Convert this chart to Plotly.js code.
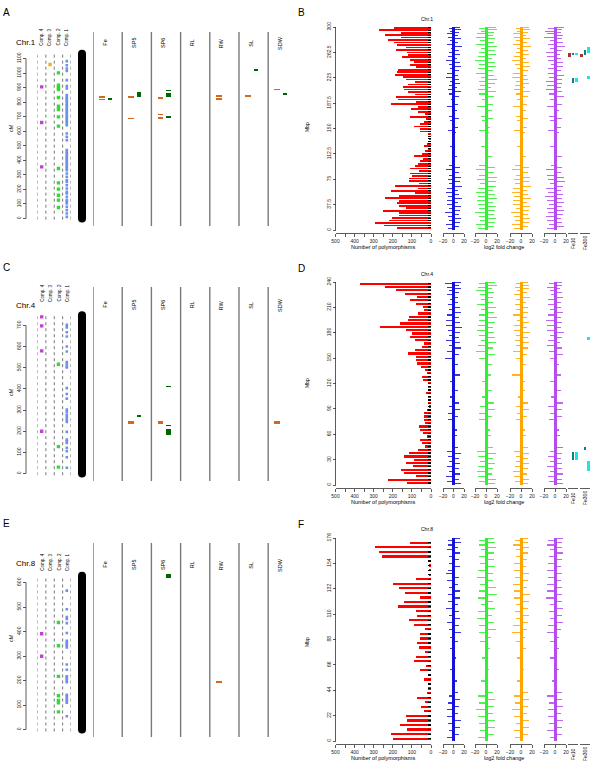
<!DOCTYPE html>
<html><head><meta charset="utf-8">
<script src="https://cdn.plot.ly/plotly-3.0.1.min.js"></script>
<style>html,body{margin:0;padding:0;background:#fff}#chart{width:600px;height:775px}</style>
</head><body><div id="chart"></div>
<script>
// ===================== DATA =====================
const traitNames = ['Fe','SP5','SP6','RL','RW','SL','SDW'];
const compNames = ['Comp. 4','Comp. 3','Comp. 2','Comp. 1'];
const chrLabels = ['Chr.1','Chr.4','Chr.8'];
const leftLetters = ['A','C','E'];
const rightLetters = ['B','D','F'];

// genetic map (cM)
const chrLenCM = [1132, 748, 628];
const cmTicksChr1 = [0,100,200,300,400,500,600,700,800,900,1000,1100];
const cmTicksChr4 = [0,100,200,300,400,500,600,700];
const cmTicksChr8 = [0,100,200,300,400,500,600];

const chr1Comp4 = [905,660,355];
const chr1Comp3 = [1059];
const chr1Comp2 = [1001,917,900,887,832,772,749,699,635,344,245,202,160,126,76];
const chr1Comp1 = [1082,1054,1031,1015,951,910,894,848,836,825,814,802,791,779,768,756,745,733,722,710,699,687,676,665,653,642,584,561,538,470,458,447,435,424,412,401,390,378,367,355,344,332,309,286,263,252,229,206,183,172,149,126,115,103,80,57,34,11];
const chr4Comp4 = [741,698,580,200];
const chr4Comp3 = [];
const chr4Comp2 = [517,127,30];
const chr4Comp1 = [703,691,668,648,601,577,527,517,506,501,404,376,354,302,291,278,266,255,244,197,160,152,145,121,105,77,27];
const chr8Comp4 = [391,299];
const chr8Comp3 = [];
const chr8Comp2 = [437,342,217,138,119,109,72];
const chr8Comp1 = [567,491,459,451,434,394,362,355,349,342,335,265,244,217,213,206,199,193,142,136,129,122,115,109,54];

// QTL intervals (cM)
const chr1OrangeTrait = ['Fe','Fe','SP5','SP5','SP6','SP6','SP6','RW','RW','SL','SDW'];
const chr1OrangeStart = [830,813,828,681,821,709,683,836,818,837,882];
const chr1OrangeEnd   = [842,825,840,693,833,721,695,848,830,849,892];
const chr1GreenTrait = ['Fe','SP5','SP6','SP6','SP6','SL','SDW'];
const chr1GreenStart = [818,832,832,875,693,1012,846];
const chr1GreenEnd   = [830,868,860,885,706,1030,864];
const chr4OrangeTrait = ['SP5','SP6','SDW'];
const chr4OrangeStart = [234,234,234];
const chr4OrangeEnd   = [246,246,246];
const chr4GreenTrait = ['SP5','SP6','SP6','SP6'];
const chr4GreenStart = [268,408,224,182];
const chr4GreenEnd   = [275,416,231,212];
const chr8OrangeTrait = ['RW'];
const chr8OrangeStart = [189];
const chr8OrangeEnd   = [197];
const chr8GreenTrait = ['SP6'];
const chr8GreenStart = [618];
const chr8GreenEnd   = [636];

// physical map (Mbp)
const mbpMax = [300, 240, 176];
const mbpTicksChr1 = [0,37.5,75,112.5,150,187.5,225,262.5,300];
const mbpTicksChr4 = [0,30,60,90,120,150,180,210,240];
const mbpTicksChr8 = [0,22,44,66,88,110,132,154,176];
const polyTicks = [500,450,400,350,300,250,200,150,100,50,0];
const polyTickText = ['500','','400','','300','','200','','100','','0'];
const log2Ticks = [-20,0,20];

// number of polymorphisms per bin (chr1, chr4 listed from top bin downwards; chr8 from bottom bin upwards)
const chr1Poly = [192,273,157,239,157,226,192,178,129,183,125,122,152,111,87,108,77,172,178,190,146,129,82,122,146,143,122,82,185,172,77,209,70,103,70,30,108,24,35,56,87,59,59,17,12,12,17,21,35,17,30,47,87,42,59,70,82,111,64,111,99,117,117,64,186,70,207,82,169,239,169,178,169,129,251,169,169,204,221,291,247,178];
const chr4Poly = [373,242,181,134,73,111,77,42,38,70,117,122,160,268,129,99,108,82,38,47,82,122,77,77,73,52,33,21,47,42,16,16,16,24,14,17,16,12,21,35,35,38,30,64,56,42,21,59,47,33,70,117,139,91,129,94,157,139,77,226,125];
const chr8Poly = [200,207,125,164,125,129,35,51,30,73,21,17,12,38,16,56,24,91,77,30,63,73,59,56,30,87,113,73,77,172,139,59,134,165,200,77,8,10,10,8,256,273,291,111];
const binFirst = [299, 238, 2];       // Mbp of first listed bin
const binStep  = [-3.654, -3.927, 3.95];

// log2 fold change (gene position in Mbp, value per condition)
const chr1GenePos = [300,298,296,294,292,290,288,285,283,280,277,274,271,268,265,262,259,256,253,250,247,244,241,238,235,232,229,226,223,220,217,214,211,208,205,201,197,193,186,183,176,168,165,162,152,147,144,123,108,96,93,89,85,81,77,74,71,68,65,62,59,56,53,50,47,44,41,38,35,32,29,26,23,20,17,14,11,8,5,2];
const chr1Blue   = [12,-9,15,-6,10,-13,8,-11,14,-7,9,-12,16,-5,11,-8,13,-10,7,-14,12,-9,15,-6,10,-12,8,-15,11,-7,13,-9,6,-11,14,-8,10,-5,9,-12,7,-8,11,-6,9,-10,5,-6,7,-9,12,-14,10,-8,15,-11,13,-9,16,-12,8,-14,11,-10,17,-13,9,-12,15,-8,12,-16,10,-11,14,-9,13,-15,11,-10];
const chr1Green  = [18,-13,20,-10,15,-17,12,-19,16,-11,14,-18,20,-9,17,-12,19,-15,11,-20,16,-12,18,-14,13,-19,15,-10,20,-13,17,-11,9,-15,18,-12,14,-8,12,-16,10,-9,13,-7,8,-12,6,-9,11,-13,17,-19,15,-12,20,-16,18,-11,19,-15,12,-18,16,-14,20,-17,13,-15,18,-12,16,-20,14,-13,19,-11,17,-18,15,-14];
const chr1Orange = [14,-10,17,-8,12,-15,9,-13,16,-9,11,-14,18,-7,13,-10,15,-12,9,-16,14,-11,17,-8,12,-14,10,-17,13,-9,15,-11,8,-13,16,-10,12,-7,11,-14,9,-10,13,-8,11,-12,7,-8,9,-11,14,-16,12,-10,17,-13,15,-11,18,-14,10,-16,13,-12,19,-15,11,-14,17,-10,14,-18,12,-13,16,-11,15,-17,13,-12];
const chr1Purple = [16,-12,13,-18,11,-14,15,-20,12,-9,14,-13,18,-10,13,-16,9,-15,11,-12,15,-8,14,-13,10,-12,17,-11,13,-16,12,-14,10,-17,13,-11,16,-9,12,-15,8,-11,12,-9,10,-13,7,-10,12,-8,13,-17,11,-14,16,-12,18,-10,14,-16,11,-13,15,-18,12,-14,17,-11,13,-15,16,-12,14,-17,10,-15,13,-11,16,-14];
const chr4GenePos = [240,238,236,234,232,230,228,225,222,219,216,213,210,207,204,201,198,195,192,189,186,183,180,177,174,171,168,165,162,158,154,150,142,130,122,112,104,97,93,89,85,81,77,65,58,44,40,37,34,31,28,25,22,19,16,13,10,7,4,2];
const chr4Blue   = [14,-16,10,-12,15,-8,11,-13,9,-7,8,-10,12,-9,14,-13,10,-15,12,-14,16,-11,13,-9,10,-15,12,-8,14,-13,11,-16,8,12,-7,9,-6,10,-9,13,-11,8,-10,6,7,9,-12,14,-10,11,-8,13,-12,10,-9,12,-14,11,-13,15];
const chr4Green  = [16,-12,20,-15,10,-18,14,-11,12,-9,13,-16,18,-10,15,-13,20,-12,17,-14,12,-16,15,-12,17,-10,19,-14,13,-18,16,-12,11,9,-8,10,-7,14,-11,16,-12,10,-13,8,9,12,-16,18,-14,12,-11,16,-15,13,-17,11,-14,18,-12,16];
const chr4Orange = [12,-10,15,-11,14,-8,10,-12,16,-9,9,-11,13,-10,12,-15,11,-8,14,-12,10,-13,16,-9,12,-11,15,-10,13,-14,11,-9,9,-16,8,7,-6,12,-9,14,-8,11,-10,7,9,13,-12,15,-9,12,-10,14,-11,13,-15,10,-12,14,-11,12];
const chr4Purple = [13,-11,12,-14,9,-10,12,-8,15,-12,10,-13,11,-9,14,-12,10,-16,13,-15,11,-14,16,-10,12,-13,9,-15,12,-11,14,-10,8,11,-9,10,-7,15,-12,13,-9,12,-11,8,9,14,-10,12,-13,11,-9,13,-14,12,-10,15,-12,13,-11,14];
const chr8GenePos = [176,174,172,170,168,166,163,160,157,154,151,148,145,142,139,136,133,130,127,124,121,118,115,112,109,106,103,100,97,94,90,86,80,72,62,52,42,39,36,33,30,27,24,21,18,15,12,9,6,3];
const chr8Blue   = [12,-10,14,-11,9,-13,12,-8,10,-9,13,-11,-15,10,-12,9,-8,13,-11,12,-10,9,-14,11,-8,13,-12,10,-9,14,-7,8,-6,5,-7,6,9,-8,12,-10,11,-13,9,-12,14,-10,12,-9,11,-13];
const chr8Green  = [15,-12,16,-13,18,-10,14,-12,15,-11,17,-14,12,-16,13,-11,18,-12,20,-15,12,-10,16,-14,11,-17,15,-13,18,-12,9,-11,7,-8,6,-9,13,-15,16,-12,14,-18,12,-15,17,-13,16,-11,15,-14];
const chr8Orange = [13,-11,12,-14,15,-9,12,-10,11,-13,9,-12,14,-11,12,-15,10,-12,16,-13,14,-9,12,-11,15,-10,13,-14,11,-16,8,-10,9,-7,6,-8,12,-13,15,-11,13,-16,11,-12,14,-10,15,-13,12,-11];
const chr8Purple = [14,-12,13,-15,12,-10,14,-11,12,-13,10,-14,13,-12,11,-14,12,-15,13,-16,12,-9,14,-11,13,-10,15,-12,11,-14,8,-10,7,-9,8,-6,12,-14,13,-11,15,-12,10,-13,14,-11,12,-15,13,-10];

// Fe10 / Fe300 intervals (Mbp)
const feConditions = ['Fe10','Fe300'];
const chr1FeCond  = ['Fe10','Fe10','Fe10','Fe10','Fe10','Fe300','Fe300','Fe300','Fe300'];
const chr1FeLane  = [0,1,2,1,2,0,1,2,2];
const chr1FeStart = [255,259,258,217,218,256,258,261,223];
const chr1FeEnd   = [262,262,262,224,225,260,266,270,227];
const chr4FeCond  = ['Fe10','Fe10','Fe300','Fe300','Fe300'];
const chr4FeLane  = [1,2,1,2,2];
const chr4FeStart = [30,30,41,16,172];
const chr4FeEnd   = [39,39,45,28,175];
const chr8FeCond = [], chr8FeLane = [], chr8FeStart = [], chr8FeEnd = [];

// ===================== BUILD =====================
const rows = [
 {comps:[chr1Comp4,chr1Comp3,chr1Comp2,chr1Comp1], cmTicks:cmTicksChr1, cmScale:160/1100,
  orT:chr1OrangeTrait, orS:chr1OrangeStart, orE:chr1OrangeEnd, grT:chr1GreenTrait, grS:chr1GreenStart, grE:chr1GreenEnd,
  mbpTicks:mbpTicksChr1, poly:chr1Poly, pos:chr1GenePos, l2:[chr1Blue,chr1Green,chr1Orange,chr1Purple],
  feC:chr1FeCond, feL:chr1FeLane, feS:chr1FeStart, feE:chr1FeEnd, polyW:2.6, geneW:1.5},
 {comps:[chr4Comp4,chr4Comp3,chr4Comp2,chr4Comp1], cmTicks:cmTicksChr4, cmScale:148/700,
  orT:chr4OrangeTrait, orS:chr4OrangeStart, orE:chr4OrangeEnd, grT:chr4GreenTrait, grS:chr4GreenStart, grE:chr4GreenEnd,
  mbpTicks:mbpTicksChr4, poly:chr4Poly, pos:chr4GenePos, l2:[chr4Blue,chr4Green,chr4Orange,chr4Purple],
  feC:chr4FeCond, feL:chr4FeLane, feS:chr4FeStart, feE:chr4FeEnd, polyW:2.6, geneW:1.3},
 {comps:[chr8Comp4,chr8Comp3,chr8Comp2,chr8Comp1], cmTicks:cmTicksChr8, cmScale:147/600,
  orT:chr8OrangeTrait, orS:chr8OrangeStart, orE:chr8OrangeEnd, grT:chr8GreenTrait, grS:chr8GreenStart, grE:chr8GreenEnd,
  mbpTicks:mbpTicksChr8, poly:chr8Poly, pos:chr8GenePos, l2:[chr8Blue,chr8Green,chr8Orange,chr8Purple],
  feC:chr8FeCond, feL:chr8FeLane, feS:chr8FeStart, feE:chr8FeEnd, polyW:1.9, geneW:1.0}
];

const FONT = 'Liberation Sans, Arial, Helvetica, sans-serif';
const W = 600, H = 775;
const PX = x => x / W, PY = y => 1 - y / H;
const rowOff = [0, 255, 511];
const compColors = ['#C040D8', '#F2B01E', '#2EDD2E', '#6C90EE'];
const log2Colors = ['#1414D8', '#33EE33', '#FFA500', '#B64CF0'];
const log2Dom = [[443,464],[475,497],[510,532],[544,566]];
const feColors = ['#A8322A', '#00868B', '#1EE5E5'];
const tickFont = {family: FONT, size: 5, color: '#222'};
const BIN_MARK = 14;   // length (in polymorphism units) of the small black bin marks at the axis origin

const layout = {width:W, height:H, margin:{l:0,r:0,t:0,b:0,pad:0}, paper_bgcolor:'#fff',
  plot_bgcolor:'rgba(0,0,0,0)', showlegend:false, barmode:'overlay', bargap:0,
  font:{family:FONT, size:6, color:'#000'}, shapes:[], annotations:[]};
const traces = [];
let nx = 0, ny = 0;
const base = {showgrid:false, zeroline:false, fixedrange:true};
function addX(p){ nx++; const s = nx>1 ? String(nx) : ''; layout['xaxis'+s] = Object.assign({}, base, p); return 'x'+s; }
function addY(p){ ny++; const s = ny>1 ? String(ny) : ''; layout['yaxis'+s] = Object.assign({}, base, p); return 'y'+s; }
function note(text, x, y, size, angle, extra){
  layout.annotations.push(Object.assign({text, x:PX(x), y:PY(y), xref:'paper', yref:'paper', showarrow:false,
    font:{family:FONT, size, color:'#000'}, textangle:angle||0, xanchor:'center', yanchor:'middle'}, extra||{}));
}
const chrLabelY = [42, 305, 563], compLabelY = [37, 293, 562], traitLabelY = [43, 305, 565];
const cmLabelY = [128, 392, 638], mbpLabelY = [127, 383, 642], titleY = [19, 274, 529];
const letterY = [12, 267, 523];

rows.forEach((r, i) => {
  const oy = rowOff[i];
  // ---------- LEFT ----------
  const zeroPx = oy + 218.5, s = r.cmScale, topPx = oy + 30, botPx = oy + 226;
  const cmY = addY({domain:[PY(botPx), PY(topPx)], range:[-(botPx-zeroPx)/s, (zeroPx-topPx)/s],
    anchor:'free', position:PX(26), side:'left', showline:false, ticks:'outside', ticklen:3, tickwidth:0.8,
    tickcolor:'#333', tickmode:'array', tickvals:r.cmTicks, ticktext:r.cmTicks.map(String), tickangle:-90, tickfont:tickFont});
  const compX = addX({domain:[PX(37.5), PX(71)], range:[0,4], visible:false, anchor:cmY});
  const traitX = addX({domain:[PX(93), PX(297.4)], range:[0,7], visible:false, anchor:cmY});
  const len = chrLenCM[i];
  for (let k = 0; k <= 4; k++) layout.shapes.push({type:'line', xref:compX, yref:cmY, x0:k, x1:k, y0:-8, y1:len,
    line:{color:'#666', width:0.9, dash:'dot'}, layer:'below'});
  r.comps.forEach((arr, k) => {
    traces.push({type:'scatter', mode:'markers', x:arr.map(() => k + 0.5), y:arr, xaxis:compX, yaxis:cmY,
      marker:{symbol:'square', size:k===3?2.6:3.4, color:compColors[k], line:{width:0}}, hoverinfo:'skip'});
  });
  for (let k = 0; k < 7; k++) layout.shapes.push({type:'line', xref:traitX, yref:'paper', x0:k, x1:k,
    y0:PY(oy+226), y1:PY(oy+32), line:{color:'#7a7a7a', width:1.4}});
  const topBody = zeroPx - len * s;
  layout.shapes.push({type:'rect', xref:'paper', yref:cmY, x0:PX(78), x1:PX(86), y0:0, y1:len, fillcolor:'#000', line:{width:0}});
  [zeroPx, topBody].forEach(c => layout.shapes.push({type:'circle', xref:'paper', yref:'paper', x0:PX(78), x1:PX(86),
    y0:PY(c+4), y1:PY(c-4), fillcolor:'#000', line:{width:0}}));
  layout.shapes.push({type:'line', xref:'paper', yref:cmY, x0:PX(26), x1:PX(26), y0:0, y1:r.cmTicks[r.cmTicks.length-1], line:{color:'#333', width:0.8}});
  traces.push({type:'bar', x:r.orT.map(t => traitNames.indexOf(t) + 0.31), base:r.orS, y:r.orS.map((v,j) => r.orE[j]-v),
    width:0.19, marker:{color:'#D2691E', line:{width:0}}, xaxis:traitX, yaxis:cmY, hoverinfo:'skip'});
  traces.push({type:'bar', x:r.grT.map(t => traitNames.indexOf(t) + 0.58), base:r.grS, y:r.grS.map((v,j) => r.grE[j]-v),
    width:0.16, marker:{color:'#006400', line:{width:0}}, xaxis:traitX, yaxis:cmY, hoverinfo:'skip'});
  note(leftLetters[i], 6, letterY[i], 10);
  note(chrLabels[i], 26, chrLabelY[i], 8);
  compNames.forEach((c, k) => note(c, 41.7 + k*8.4, compLabelY[i], 4.5, -90));
  traitNames.forEach((t, k) => layout.annotations.push({text:t, x:k+0.4, xref:traitX, y:PY(traitLabelY[i]), yref:'paper',
    showarrow:false, textangle:-90, font:{family:FONT, size:5.5, color:'#000'}, xanchor:'center', yanchor:'middle'}));
  note('cM', 11, cmLabelY[i], 5.5, -90);

  // ---------- RIGHT ----------
  const mx = mbpMax[i];
  const mbpY = addY({domain:[PY(oy+230), PY(oy+27)], range:[0, mx], anchor:'free', position:PX(335.5), side:'left',
    showline:true, linecolor:'#333', linewidth:0.8, ticks:'outside', ticklen:3, tickwidth:0.8, tickcolor:'#333',
    tickmode:'array', tickvals:r.mbpTicks, ticktext:r.mbpTicks.map(String), tickangle:-90, tickfont:tickFont});
  const polyX = addX({domain:[PX(335.5), PX(431)], range:[500, 0], anchor:'free', position:PY(oy+233),
    showline:true, linecolor:'#333', linewidth:0.8, ticks:'outside', ticklen:3, tickwidth:0.8, tickcolor:'#333',
    tickmode:'array', tickvals:polyTicks, ticktext:polyTickText, tickfont:tickFont});
  traces.push({type:'bar', orientation:'h', x:r.poly, y0:binFirst[i], dy:binStep[i], width:r.polyW,
    marker:{color:'#FF0000', line:{width:0}}, xaxis:polyX, yaxis:mbpY, hoverinfo:'skip'});
  traces.push({type:'bar', orientation:'h', x:r.poly.map(() => BIN_MARK), y0:binFirst[i], dy:binStep[i], width:r.polyW*0.55,
    marker:{color:'#000', line:{width:0}}, xaxis:polyX, yaxis:mbpY, hoverinfo:'skip'});
  r.l2.forEach((vals, k) => {
    const ax = addX({domain:[PX(log2Dom[k][0]), PX(log2Dom[k][1])], range:[-20, 20], anchor:'free', position:PY(oy+233),
      showline:true, linecolor:'#333', linewidth:0.8, ticks:'outside', ticklen:3, tickwidth:0.8, tickcolor:'#333',
      tickmode:'array', tickvals:log2Ticks, tickfont:tickFont, zeroline:true, zerolinecolor:log2Colors[k], zerolinewidth:3});
    traces.push({type:'bar', orientation:'h', x:vals, y:r.pos, width:r.geneW, opacity:0.85,
      marker:{color:log2Colors[k], line:{width:0}}, xaxis:ax, yaxis:mbpY, hoverinfo:'skip'});
  });
  feConditions.forEach((cond, ci) => {
    const lo = ci ? 580 : 568;
    const ax = addX({domain:[PX(lo), PX(lo+10)], range:[0,3], anchor:'free', position:PY(oy+233),
      showline:true, linecolor:'#333', linewidth:0.8, ticks:'', showticklabels:false});
    const idx = r.feC.map((c, j) => c === cond ? j : -1).filter(j => j >= 0);
    traces.push({type:'bar', x:idx.map(j => r.feL[j] + 0.5), base:idx.map(j => r.feS[j]), y:idx.map(j => r.feE[j] - r.feS[j]),
      width:0.75, marker:{color:idx.map(j => feColors[r.feL[j]]), line:{width:0}}, xaxis:ax, yaxis:mbpY, hoverinfo:'skip'});
    note(cond, lo + 5, oy + 243, 5, -90);
  });
  note(rightLetters[i], 301, letterY[i] + 1, 10);
  note(chrLabels[i], 427, titleY[i], 5);
  note('Mbp', 307, mbpLabelY[i], 5, -90);
  note('Number of polymorphisms', 383, oy + 247, 5.5);
  note('log2 fold change', 504, oy + 247, 5.5);
});

Plotly.newPlot('chart', traces, layout, {staticPlot:true, displayModeBar:false});
</script>
</body></html>
